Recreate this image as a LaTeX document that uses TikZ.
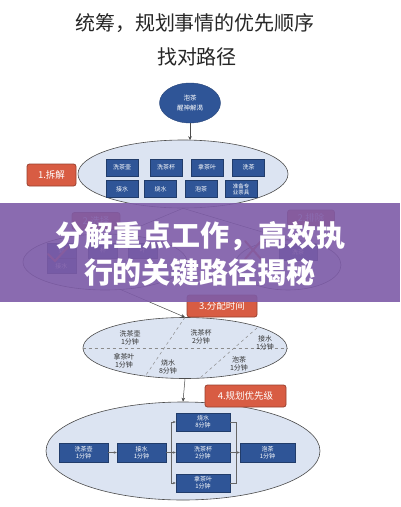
\documentclass[tikz,border=0pt]{standalone}
\usepackage{fontspec}
\setmainfont{Noto Sans CJK SC}
\newfontfamily\heavyfont{Noto Sans CJK SC Black}
\usetikzlibrary{shapes.geometric,arrows.meta}
\definecolor{dblue}{HTML}{2F5597}
\definecolor{lblue}{HTML}{DCE4F2}
\definecolor{tagred}{HTML}{D85C43}
\definecolor{bpurple}{HTML}{7E5CA8}
\definecolor{txtgray}{HTML}{333333}
\begin{document}
\begin{tikzpicture}[x=1pt,y=-1pt,
  bluebox/.style={rectangle, fill=dblue, draw=dblue!70!black, text=white, font=\fontsize{6}{7}\selectfont, inner sep=0pt, minimum width=32pt, minimum height=17pt, align=center},
  bigbox/.style={bluebox, minimum width=50pt, minimum height=19pt},
  ell/.style={ellipse, draw=black!70, fill=lblue, line width=0.6pt, inner sep=0pt},
  tagbox/.style={rectangle, fill=tagred, draw=tagred!70!black, line width=0.8pt, rounded corners=2.5pt, text=white, font=\fontsize{9.5}{11}\selectfont, inner sep=0pt},
  lbl/.style={text=txtgray, font=\fontsize{7}{8.5}\selectfont, align=center, inner sep=0pt},
  conn/.style={draw=black!70, line width=0.5pt},
  arr/.style={conn, -{Stealth[length=4pt,width=3.5pt]}},
  sarr/.style={draw=black!60, line width=0.5pt, -{Stealth[length=3pt,width=2.5pt]}},
  thinline/.style={draw=black!60, line width=0.5pt}
]
\useasboundingbox (0,0) rectangle (400,507);
\fill[white] (0,0) rectangle (400,507);

% titles
\node[text=black!85, font=\fontsize{20}{22}\selectfont] (t1) at (195,23) {统筹，规划事情的优先顺序};
\node[text=black!85, font=\fontsize{20}{22}\selectfont] (t2) at (197,57) {找对路径};

% goal
\node[ellipse, fill=dblue, draw=dblue!80!black, minimum width=61pt, minimum height=40pt, inner sep=0pt, text=white, font=\fontsize{6.5}{10}\selectfont, align=center] (goal) at (190,103) {泡茶\\醒神解渴};

% step 1
\node[ell, minimum width=210pt, minimum height=68pt] (e1) at (183,174) {};
\draw[arr] (goal.south) -- (190,140.2);
\node[bluebox] (a1) at (122,167.5) {洗茶壶};
\node[bluebox] (a2) at (166,167.5) {洗茶杯};
\node[bluebox] (a3) at (207,167.5) {拿茶叶};
\node[bluebox] (a4) at (248.5,167.5) {洗茶};
\node[bluebox] (a5) at (122,189) {接水};
\node[bluebox] (a6) at (160.5,189) {烧水};
\node[bluebox] (a7) at (201,189) {泡茶};
\node[bluebox, font=\fontsize{5.5}{6}\selectfont] (a8) at (241,189) {准备专\\业茶具};
\node[tagbox, minimum width=49pt, minimum height=22pt] (tag1) at (51.5,175) {1.拆解};

% step 2
\node[ell, minimum width=164pt, minimum height=56pt] (e2l) at (105,262) {};
\node[ell, minimum width=106pt, minimum height=50pt] (e2r) at (288,265) {};
\draw[conn] (e1.south) -- (e2l.60);
\draw[conn] (e1.south) -- (e2r.north);
\node[tagbox, minimum width=48pt, minimum height=17pt] (tag2l) at (96,221) {2.选择};
\node[tagbox, minimum width=47pt, minimum height=16pt] (tag2r) at (311,218) {2.排除};
\node[bluebox, minimum width=29pt, minimum height=15pt] (b1) at (61.5,250.5) {壶};
\node[bluebox, minimum width=29pt, minimum height=15pt] (b2) at (103,250.5) {杯};
\node[bluebox, minimum width=29pt, minimum height=15pt] (b3) at (142.5,250.5) {叶};
\node[bluebox, minimum width=29pt, minimum height=15pt] (b4) at (61.5,266) {接水};
\node[bluebox, minimum width=38pt, minimum height=16pt] (b5) at (298,252) {洗茶};
\draw[tagred, line width=2pt, line cap=round] (48,254) -- (55,261) -- (68,247);
\draw[tagred, line width=2pt, line cap=round] (245,241) -- (261,259) (261,241) -- (245,259);

% step 3
\node[ell, minimum width=204pt, minimum height=61pt] (e3) at (185,348) {};
\draw[arr] (e2l.-60) -- (e3.north);
\coordinate (d1) at (145,376.5);
\coordinate (d2a) at (257,328);
\coordinate (d2b) at (200,378);
\draw[conn, dashed, draw=black!45] (e3.west) -- (e3.east);
\draw[conn, dashed, draw=black!45] (e3.north) -- (d1);
\draw[conn, dashed, draw=black!45] (d2a) -- (d2b);
\node[lbl] (c1) at (130,338) {洗茶壶\\1分钟};
\node[lbl] (c2) at (201,337) {洗茶杯\\2分钟};
\node[lbl] (c3) at (265,343) {接水\\1分钟};
\node[lbl] (c4) at (124,361) {拿茶叶\\1分钟};
\node[lbl] (c5) at (168,367) {烧水\\8分钟};
\node[lbl] (c6) at (239,364) {泡茶\\1分钟};
\node[tagbox, minimum width=70pt, minimum height=22pt] (tag3) at (222,306) {3.分配时间};

% step 4
\node[ell, minimum width=274pt, minimum height=98pt] (e4) at (183,451) {};
\draw[arr] (e3.south) -- (e4.north);
\node[tagbox, minimum width=81pt, minimum height=22pt] (tag4) at (245.5,396) {4.规划优先级};
\node[bigbox, minimum width=49pt] (p1) at (83.5,452.5) {洗茶壶\\1分钟};
\node[bigbox, minimum width=49pt] (p2) at (141.5,452.5) {接水\\1分钟};
\node[bigbox, minimum width=54pt, minimum height=18pt] (p3) at (203,422) {烧水\\8分钟};
\node[bigbox, minimum width=54pt] (p4) at (203,452.5) {洗茶杯\\2分钟};
\node[bigbox, minimum width=54pt, minimum height=18pt] (p5) at (203,483) {拿茶叶\\1分钟};
\node[bigbox, minimum width=55pt] (p6) at (267.5,452.5) {泡茶\\1分钟};
\coordinate (fl) at (171,452.5);
\coordinate (fr) at (236,452.5);
\draw[sarr] (p1) -- (p2);
\draw[thinline] (p2.east) -- (fl);
\draw[sarr] (fl) |- (p3.west);
\draw[sarr] (fl) -- (p4.west);
\draw[sarr] (fl) |- (p5.west);
\draw[thinline] (p3.east) -| (fr);
\draw[thinline] (p5.east) -| (fr);
\draw[thinline] (p4.east) -- (fr);
\draw[sarr] (fr) -- (p6.west);

% banner
\fill[bpurple, opacity=0.9] (0,203) rectangle (400,302);
\node[text=white, font=\fontsize{29}{32}\heavyfont] (h1) at (201,236) {分解重点工作，高效执};
\node[text=white, font=\fontsize{29}{32}\heavyfont] (h2) at (200,273) {行的关键路径揭秘};
\end{tikzpicture}
\end{document}
